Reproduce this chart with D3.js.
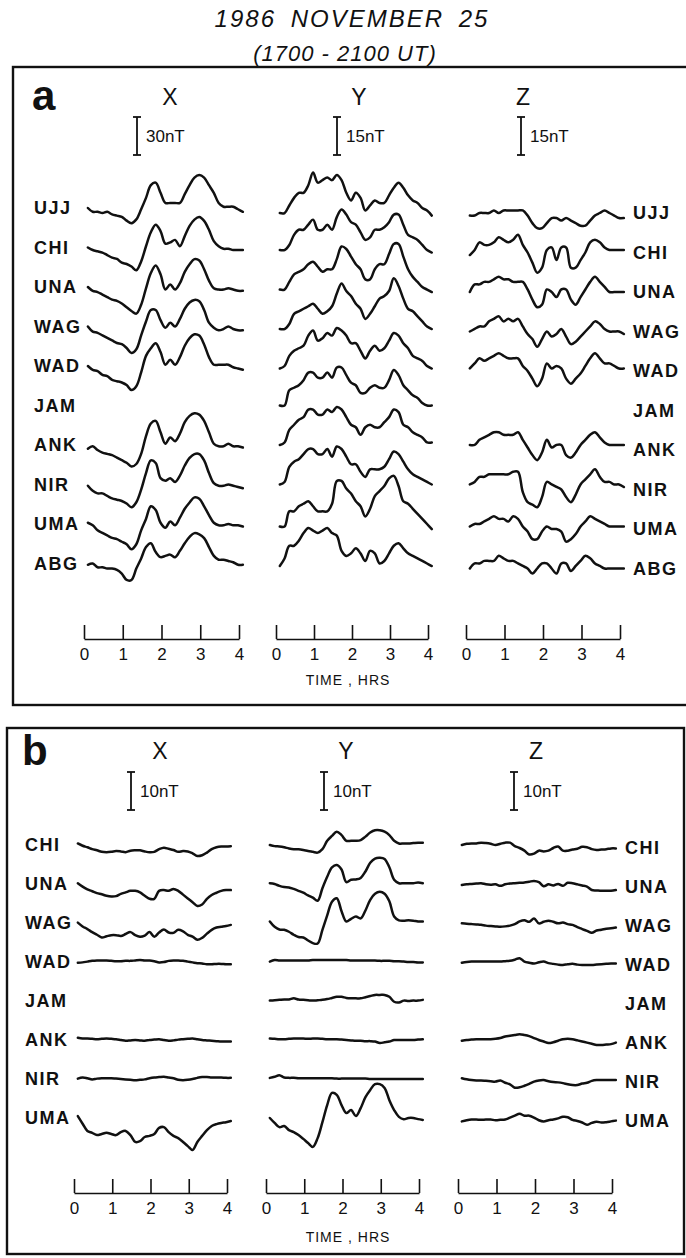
<!DOCTYPE html>
<html>
<head>
<meta charset="utf-8">
<script src="https://cdn.jsdelivr.net/npm/d3@7"></script>
<style>
  body { margin: 0; background: #fff; }
  svg { display: block; }
  text { font-family: "Liberation Sans", Arial, sans-serif; fill: #111; }
</style>
</head>
<body>
<div id="chart"></div>
<script>
// stations, components, scale bars, time ticks
const stationsA = ["UJJ", "CHI", "UNA", "WAG", "WAD", "JAM", "ANK", "NIR", "UMA", "ABG"];
const stationsB = ["CHI", "UNA", "WAG", "WAD", "JAM", "ANK", "NIR", "UMA"];
const components = ["X", "Y", "Z"];
const scaleBarA = [30, 15, 15];   // nT
const scaleBarB = [10, 10, 10];   // nT
const hourTicks = [0, 1, 2, 3, 4];
// traces are sampled every 7.5 min (0.125 h)
const sampleHours = d3.range(33).map(i => 0.1 + i * 0.125);

// ---- panel a, X (nT, relative to station baseline)
const aX_UJJ = [0,-3,-3,-4,-3,-5,-6,-7,-10,-12,-9,-1,8,18,20,12,4,4,4,4,11,18,24,26,24,18,12,4,1,1,1,-1,-3];
const aX_CHI = [0,-2,-3,-4,-6,-8,-9,-12,-13,-15,-18,-11,1,12,18,13,3,4,6,1,9,17,22,24,21,14,5,1,-1,-1,-2,-2,-2];
const aX_UNA = [0,-3,-4,-6,-8,-10,-11,-13,-16,-19,-21,-14,-1,11,17,10,-2,2,-2,3,12,18,22,21,14,5,-1,-2,-2,-1,-2,-3,-3];
const aX_WAG = [0,-4,-5,-7,-9,-11,-13,-14,-17,-21,-18,-7,4,13,13,5,-1,3,0,6,14,19,21,20,13,3,-1,-3,-2,0,-2,-3,-3];
const aX_WAD = [0,-3,-4,-7,-8,-11,-12,-13,-15,-19,-16,-5,8,14,18,11,1,5,1,7,16,22,25,24,17,7,1,1,1,1,-1,-2,-3];
const aX_ANK = [-3,-1,-4,-6,-7,-8,-10,-12,-14,-17,-15,-7,7,17,19,10,1,6,3,9,18,23,25,24,19,10,1,-1,-1,1,-1,-1,-2];
const aX_NIR = [-1,-5,-7,-7,-9,-11,-12,-13,-15,-18,-14,-4,9,19,17,5,3,5,2,7,15,21,24,24,19,9,1,-1,-1,0,-1,-2,-3];
const aX_UMA = [1,-1,-5,-7,-9,-11,-12,-14,-16,-20,-16,-5,4,14,11,1,-3,2,-1,5,12,17,21,20,14,7,1,-1,-1,0,-1,-1,-2];
const aX_ABG = [-1,0,-3,-3,-4,-4,-5,-8,-13,-13,-4,4,13,16,9,5,6,7,5,10,16,21,24,23,20,13,6,3,3,2,1,-1,-1];

// ---- panel a, Y
const aY_UJJ = [-2,-2,1,4,6,6,9,14,10,11,12,11,13,11,6,3,6,4,-1,1,3,2,2,5,8,10,8,5,3,2,0,-1,-3];
const aY_CHI = [-1,-1,1,5,7,7,9,11,7,7,9,7,12,15,13,10,9,6,3,4,7,7,8,10,13,13,9,5,4,3,1,-1,-2];
const aY_UNA = [-1,-1,2,5,6,7,9,10,8,6,7,7,11,16,15,12,9,7,3,3,7,9,9,13,17,17,12,7,4,2,0,-1,-2];
const aY_WAG = [-1,-1,1,5,6,7,8,9,7,5,6,8,13,17,14,12,9,7,3,5,8,11,12,14,19,16,11,7,6,4,2,0,-1];
const aY_WAD = [-1,0,4,6,7,8,12,14,10,11,13,12,15,14,12,9,9,6,3,6,8,6,7,10,13,12,9,7,4,3,2,0,-1];
const aY_JAM = [0,0,6,7,8,10,13,13,11,11,13,11,15,15,12,9,8,5,5,7,8,7,7,10,14,12,8,6,4,3,1,0,0];
const aY_ANK = [0,1,6,8,10,11,14,14,12,12,14,13,15,14,11,8,7,4,7,8,7,7,9,11,14,13,8,7,5,4,3,1,1];
const aY_NIR = [0,1,7,9,10,12,14,14,12,12,14,11,15,14,11,8,8,5,3,6,6,6,7,10,13,12,9,6,4,3,2,1,0];
const aY_UMA = [-1,-1,5,5,7,8,9,7,5,5,5,8,17,17,14,12,9,7,3,6,11,13,15,18,19,15,9,8,6,4,2,0,-2];
const aY_ABG = [-1,2,7,7,9,12,14,13,12,13,14,12,11,5,3,4,6,4,1,5,4,0,1,4,7,8,6,4,3,2,1,0,-1];

// ---- panel a, Z
const aZ_UJJ = [-1,-1,0,0,0,1,0,1,1,1,1,1,-1,-4,-6,-6,-4,-2,-2,-3,-2,-3,-4,-5,-5,-3,-1,0,1,0,-1,-2,-2];
const aZ_CHI = [-1,1,4,3,3,4,6,5,4,5,7,3,0,-4,-8,-6,1,2,-3,2,2,-6,-6,-3,0,4,5,4,2,1,1,1,1];
const aZ_UNA = [0,3,3,4,4,5,6,5,5,4,4,4,1,-3,-6,-5,1,0,-2,1,1,-3,-5,-2,1,4,6,4,2,0,0,0,0];
const aZ_WAG = [0,1,2,2,4,5,6,4,5,4,5,2,-1,-3,-6,-3,0,-2,-1,1,-2,-5,-4,-2,0,2,4,3,1,0,0,0,-1];
const aZ_WAD = [1,3,5,4,5,6,7,6,5,5,5,2,0,-3,-6,-3,3,1,2,1,-3,-5,-3,-1,2,5,7,5,3,3,2,1,1];
const aZ_ANK = [2,2,4,5,6,7,7,6,6,6,7,4,1,-2,-4,-1,4,1,2,2,-2,-3,-1,2,4,6,7,5,3,2,2,2,2];
const aZ_NIR = [2,3,5,5,6,6,6,6,6,7,7,-1,-5,-6,-7,-3,3,2,1,0,-3,-5,-2,2,4,6,8,5,3,3,2,2,1];
const aZ_UMA = [1,2,2,3,4,5,4,4,3,5,4,1,-1,-4,-4,-1,1,0,0,-1,-5,-4,-2,1,3,5,4,3,2,1,1,1,1];
const aZ_ABG = [0,2,2,3,3,3,5,4,3,3,2,1,0,-2,0,2,2,0,-2,2,2,-1,1,3,5,4,2,1,0,0,0,0,0];

// ---- panel b, X
const bX_CHI = [0.4,-0.2,-0.6,-1.1,-1.4,-1.8,-1.9,-1.8,-1.6,-1.7,-1.9,-1.5,-1.4,-1.4,-1.7,-1.9,-1.8,-1.1,-0.7,-1,-1.3,-1.8,-1.6,-1.7,-2.2,-2.9,-2.7,-2,-1.1,-0.6,-0.4,-0.4,-0.3];
const bX_UNA = [0.2,-0.7,-1.4,-1.9,-2.4,-2.7,-3.1,-3.3,-3.2,-2.6,-2.2,-1.8,-1.8,-2.2,-3.1,-3.9,-3.9,-1.8,-1.6,-1.8,-1.3,-1.8,-2.8,-3.8,-4.8,-5.8,-5.4,-3.9,-2.9,-2.3,-1.8,-1.6,-1.6];
const bX_WAG = [0.1,-0.9,-1.6,-2.4,-3.1,-3.8,-3.5,-3.2,-3.2,-3.4,-2.9,-2.4,-3.2,-3.6,-3.3,-2.4,-3.6,-2.5,-1.7,-2.5,-2.6,-1.8,-2.2,-3.1,-3.6,-4.4,-3.9,-2.8,-1.8,-1.2,-1,-0.8,-0.5];
const bX_WAD = [-0.2,-0.1,0.1,0.3,0.4,0.4,0.4,0.3,0.2,0.2,0.3,0.3,0.4,0.5,0.4,0.4,0.2,-0.1,0,0.3,0.4,0.4,0.3,0.1,-0.1,-0.3,-0.4,-0.6,-0.6,-0.5,-0.5,-0.6,-0.6];
const bX_ANK = [0.6,0.4,0.4,0.3,0.2,0.3,0.4,0.3,0.2,0,-0.2,-0.1,0,-0.1,-0.2,0,0.1,0.2,0,-0.2,-0.1,0.1,0.2,0.3,0.4,0.2,0,-0.1,-0.2,-0.3,-0.4,-0.4,-0.4];
const bX_NIR = [0.1,0.4,0.2,-0.1,0.1,0.2,0.2,0.2,0.1,0,-0.1,-0.2,-0.3,-0.2,-0.1,0.2,0.4,0.5,0.6,0.4,0.2,-0.2,-0.3,-0.2,0,0.3,0.5,0.5,0.4,0.4,0.4,0.3,0.3];
const bX_UMA = [0.5,-1.5,-3.4,-3.9,-4.5,-4.2,-3.9,-4.2,-4.5,-3.7,-3.4,-4.5,-6.3,-6.1,-5,-4.7,-4.2,-2.6,-2.4,-3.7,-4.7,-5.3,-6.3,-7.4,-8.4,-6.3,-4.7,-3.2,-2.1,-1.6,-1.3,-1.1,-0.8];

// ---- panel b, Y
const bY_CHI = [0,-0.3,-0.4,-0.6,-0.9,-1.1,-1.1,-1.3,-1.6,-1.8,-2,-1.1,1.1,2.4,3.5,2.6,1.1,1.1,1.1,1.3,2.2,3.3,3.9,3.9,3.5,2.6,1.1,0.4,0.4,0.4,0.5,0.6,0.6];
const bY_UNA = [0.2,0,-0.5,-0.8,-0.9,-1.3,-1.8,-2.3,-3,-3.6,-4.4,-1.1,1.9,4.4,5,3.8,0.5,1.1,1.2,1.6,3.3,5.6,6.7,6.9,6.6,4.4,1.1,0.2,0.2,0.2,0.2,0.4,0.2];
const bY_WAG = [0.4,-1,-1.7,-1.8,-2.3,-3.1,-3.7,-3.8,-4.6,-5.3,-5.4,-1.8,2,5.6,6.5,3.1,0.4,1.1,1.7,1.2,3.3,6.1,7.7,8.2,7.7,5.7,1.7,0.7,0.6,0.7,0.6,0.4,0.4];
const bY_WAD = [0.1,0.5,0.4,0.4,0.4,0.4,0.4,0.4,0.4,0.5,0.5,0.5,0.5,0.5,0.5,0.5,0.5,0.4,0.4,0.4,0.4,0.4,0.4,0.3,0.3,0.3,0.2,0.2,0.1,0,0,-0.1,-0.1];
const bY_JAM = [0.1,0.2,0.3,0.4,0.4,0.7,0.4,0.3,0.2,0.1,0.2,0.3,0.5,0.8,1.1,1.1,0.8,0.7,0.7,0.7,1,1.3,1.6,1.6,1.6,1.1,-0.2,-0.4,0.1,0,0.1,0.1,0.3];
const bY_ANK = [0.4,0.3,0.2,0.2,0.3,0.4,0.4,0.4,0.3,0.4,0.4,0.3,0.2,0.2,0.2,0.1,0,-0.1,-0.2,-0.2,-0.3,-0.3,-0.4,-0.8,-0.6,-0.4,0,0,0,0,0,0.1,0.2];
const bY_NIR = [0.3,0.6,1,0.4,0.3,0.3,0.2,0.2,0.2,0.2,0.2,0.2,0.2,0.2,0.1,0.1,0.1,0.1,0.1,0.1,0.1,0,0,0,0,0,0,0,0,0,0,0,0];
const bY_UMA = [0,-1.3,-2.4,-2.1,-3.2,-3.7,-4.5,-5.5,-6.6,-7.6,-5.3,-1.1,3.4,6.6,6.1,3.4,1.3,2.1,0.5,2.6,5.5,7.4,8.9,8.9,7.9,4.7,2.1,0.3,-0.3,0,0,-0.3,-0.5];

// ---- panel b, Z
const bZ_CHI = [0.8,1.1,1.2,1.2,1.4,1.3,1.1,0.8,1.1,1.4,1.4,0.5,0,-0.7,-1.7,-1.5,-0.7,-0.9,-0.7,0,0.4,-0.7,-0.7,-0.4,-0.2,0.3,0.2,-0.3,-0.5,-0.4,-0.3,-0.1,-0.1];
const bZ_UNA = [0.5,0.7,0.8,0.9,1,0.7,0.6,0.7,0.3,0.7,0.9,1,1.1,1.2,1.4,1.6,1.3,0.2,0.7,0.4,0.8,0.3,1.1,1,0.7,0.4,0.1,-0.8,-0.9,-1,-1,-1,-0.8];
const bZ_WAG = [0.7,0.6,0.5,0.4,0.3,0.1,0,-0.1,-0.2,-0.1,0.1,0.5,1.2,1.5,1.1,2,0.7,1.1,1.4,1.1,0.7,0.9,0.5,0.3,-0.3,-0.8,-1.3,-1.8,-1.2,-1,-0.7,-0.6,-0.4];
const bZ_WAD = [0.6,0.8,0.9,0.9,0.9,0.9,0.9,0.9,0.9,1,1.1,1.4,1.8,0.9,0.6,0.4,0.7,0.9,0.5,0.3,0.1,0,0.2,0.3,0.1,0,0,0,0.1,0.2,0.3,0.4,0.4];
const bZ_ANK = [0.6,0.8,0.9,1,1,1,1,1.1,1.3,1.7,1.9,2.1,2.3,2.1,1.8,1.3,0.8,0.4,0,0.2,0.6,1,1.1,1,0.7,0.4,0.1,-0.2,-0.5,-0.5,-0.4,-0.3,0.1];
const bZ_NIR = [1,0.7,0.5,0.4,0.4,0.3,0.2,0.1,0.4,-0.2,-0.6,-1.5,-1.4,-1,-0.5,0.1,0.4,0.5,0.2,0,-0.1,-0.3,-0.6,-0.8,-0.8,-0.4,-0.2,0.3,0.5,0.5,0.5,0.5,0.5];
const bZ_UMA = [-0.1,0.2,0.4,0.4,0.3,0.4,0.4,0.2,0.3,0.4,0.9,1.4,1.9,1.4,1.4,0.9,0.2,-0.1,0.2,0.4,0.7,1.1,1,0.3,0,-0.4,-1,-0.5,-0.2,-0.4,-0.3,-0.1,0.1];

// lookup tables (JAM missing in X and Z)
const tracesA = {
    X: { UJJ: aX_UJJ, CHI: aX_CHI, UNA: aX_UNA, WAG: aX_WAG, WAD: aX_WAD, ANK: aX_ANK, NIR: aX_NIR, UMA: aX_UMA, ABG: aX_ABG },
    Y: { UJJ: aY_UJJ, CHI: aY_CHI, UNA: aY_UNA, WAG: aY_WAG, WAD: aY_WAD, JAM: aY_JAM, ANK: aY_ANK, NIR: aY_NIR, UMA: aY_UMA, ABG: aY_ABG },
    Z: { UJJ: aZ_UJJ, CHI: aZ_CHI, UNA: aZ_UNA, WAG: aZ_WAG, WAD: aZ_WAD, ANK: aZ_ANK, NIR: aZ_NIR, UMA: aZ_UMA, ABG: aZ_ABG }
};
const tracesB = {
    X: { CHI: bX_CHI, UNA: bX_UNA, WAG: bX_WAG, WAD: bX_WAD, ANK: bX_ANK, NIR: bX_NIR, UMA: bX_UMA },
    Y: { CHI: bY_CHI, UNA: bY_UNA, WAG: bY_WAG, WAD: bY_WAD, JAM: bY_JAM, ANK: bY_ANK, NIR: bY_NIR, UMA: bY_UMA },
    Z: { CHI: bZ_CHI, UNA: bZ_UNA, WAG: bZ_WAG, WAD: bZ_WAD, ANK: bZ_ANK, NIR: bZ_NIR, UMA: bZ_UMA }
};

const width = 686, height = 1258;
const ink = "#111";

const svg = d3.select("#chart")
    .append("svg")
    .attr("width", width)
    .attr("height", height);

svg.append("text")
    .attr("x", 352).attr("y", 27)
    .attr("text-anchor", "middle")
    .attr("font-style", "italic")
    .attr("font-size", 24)
    .attr("letter-spacing", 2)
    .attr("word-spacing", 6)
    .text("1986 NOVEMBER 25");
svg.append("text")
    .attr("x", 345).attr("y", 61)
    .attr("text-anchor", "middle")
    .attr("font-style", "italic")
    .attr("font-size", 22)
    .attr("letter-spacing", 1)
    .text("(1700 - 2100 UT)");

const panels = [
    {
        letter: "a", box: [13, 67, 692, 705], letterPos: [32, 110],
        stations: stationsA, rows: [208, 563.5], traces: tracesA, bars: scaleBarA,
        headerX: [170, 359, 523], headerY: 105,
        barX: [137, 337, 521], barTop: 117, barLen: 38,
        xRanges: [[84, 239], [276, 428], [466, 620]],
        axisY: 639, timeY: 685, labelX: [34, 633], zShift: 5
    },
    {
        letter: "b", box: [7, 728, 684, 1254], letterPos: [22, 765],
        stations: stationsB, rows: [845, 1118], traces: tracesB, bars: scaleBarB,
        headerX: [160, 346, 536], headerY: 759,
        barX: [131, 324, 514], barTop: 772, barLen: 38,
        xRanges: [[74, 227], [266, 419], [458, 612]],
        axisY: 1193, timeY: 1242, labelX: [25, 625], zShift: 3
    }
];

panels.forEach(p => {
    let g = svg.append("g").attr("class", "panel-" + p.letter);

    g.append("rect")
        .attr("x", p.box[0]).attr("y", p.box[1])
        .attr("width", p.box[2] - p.box[0]).attr("height", p.box[3] - p.box[1])
        .attr("fill", "none").attr("stroke", ink).attr("stroke-width", 2.4);

    g.append("text")
        .attr("x", p.letterPos[0]).attr("y", p.letterPos[1])
        .attr("font-size", 42).attr("font-weight", "bold")
        .text(p.letter);

    let row = d3.scalePoint().domain(p.stations).range(p.rows);

    components.forEach((comp, c) => {
        let x = d3.scaleLinear().domain([0, 4]).range(p.xRanges[c]);
        let y = d3.scaleLinear().domain([0, p.bars[c]]).range([0, -p.barLen]);
        let shift = comp === "Z" ? p.zShift : 0;

        g.append("text")
            .attr("x", p.headerX[c]).attr("y", p.headerY)
            .attr("text-anchor", "middle")
            .attr("font-size", 23)
            .text(comp);

        // scale bar
        let bar = g.append("g").attr("class", "scalebar");
        let b0 = p.barTop, b1 = p.barTop + (y(0) - y(p.bars[c]));
        bar.append("line")
            .attr("x1", p.barX[c]).attr("x2", p.barX[c])
            .attr("y1", b0).attr("y2", b1);
        [b0, b1].forEach(yy => {
            bar.append("line")
                .attr("x1", p.barX[c] - 4).attr("x2", p.barX[c] + 4)
                .attr("y1", yy).attr("y2", yy);
        });
        bar.selectAll("line").attr("stroke", ink).attr("stroke-width", 1.8);
        bar.append("text")
            .attr("x", p.barX[c] + 9).attr("y", (b0 + b1) / 2)
            .attr("dy", "0.36em")
            .attr("font-size", 17)
            .text(p.bars[c] + "nT");

        // traces
        let line = d3.line()
            .x((d, i) => x(sampleHours[i]))
            .y(d => y(d))
            .curve(d3.curveCatmullRom.alpha(0.5));

        let present = p.stations.filter(s => p.traces[comp][s]);
        g.append("g")
            .selectAll("path")
            .data(present)
            .enter().append("path")
            .attr("transform", s => `translate(0,${row(s) + shift})`)
            .attr("d", s => line(p.traces[comp][s]))
            .attr("fill", "none")
            .attr("stroke", ink)
            .attr("stroke-width", 2.5)
            .attr("stroke-linejoin", "round")
            .attr("stroke-linecap", "round");

        // time axis
        let axis = g.append("g")
            .attr("transform", `translate(0,${p.axisY})`)
            .call(d3.axisBottom(x)
                .tickValues(hourTicks)
                .tickSizeInner(-14)
                .tickSizeOuter(0)
                .tickPadding(9)
                .tickFormat(d3.format("d")));
        axis.select(".domain").attr("stroke", ink).attr("stroke-width", 1.6);
        axis.selectAll(".tick line").attr("stroke", ink).attr("stroke-width", 1.6);
        axis.selectAll(".tick text")
            .attr("font-family", "Liberation Sans, Arial, sans-serif")
            .attr("font-size", 17)
            .attr("fill", ink);
    });

    // station labels
    g.append("g")
        .selectAll("text")
        .data(p.stations)
        .enter().append("text")
        .attr("x", p.labelX[0])
        .attr("y", s => row(s))
        .attr("dy", "0.36em")
        .attr("font-size", 18).attr("font-weight", "bold")
        .attr("letter-spacing", 1.5)
        .text(s => s);
    g.append("g")
        .selectAll("text")
        .data(p.stations)
        .enter().append("text")
        .attr("x", p.labelX[1])
        .attr("y", s => row(s) + p.zShift)
        .attr("dy", "0.36em")
        .attr("font-size", 18).attr("font-weight", "bold")
        .attr("letter-spacing", 1.5)
        .text(s => s);

    g.append("text")
        .attr("x", 348).attr("y", p.timeY)
        .attr("text-anchor", "middle")
        .attr("font-size", 14)
        .attr("letter-spacing", 1)
        .text("TIME , HRS");
});
</script>
</body>
</html>
